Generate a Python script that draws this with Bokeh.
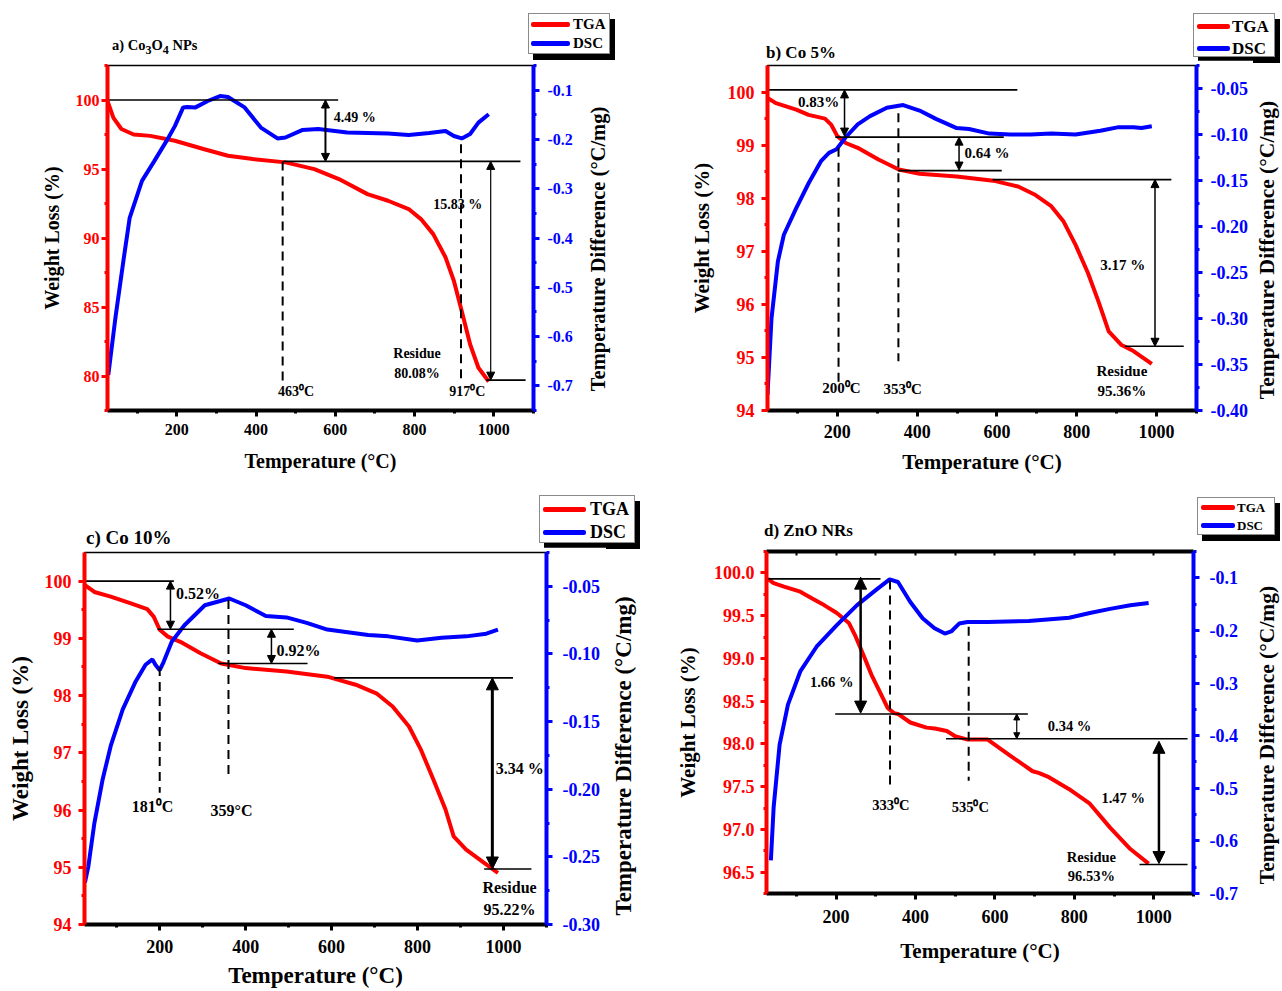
from bokeh.plotting import figure
from bokeh.models import (Range1d, LinearAxis, FixedTicker, PrintfTickFormatter,
                          Arrow, NormalHead, ColumnDataSource, Div)
from bokeh.layouts import row, column
from bokeh.embed import file_html
from bokeh.resources import INLINE
from bokeh.core.properties import value

FONT = "Liberation Serif"
RED = "#ff0000"
BLUE = "#0000ff"
SERIES = ["TGA", "DSC"]
SERIES_COLORS = [RED, BLUE]
X_LABEL = "Temperature (°C)"
YL_LABEL = "Weight Loss (%)"
YR_LABEL = "Temperature Difference (°C/mg)"

# ---------------- shared ticks ----------------
X_TICKS = [200, 400, 600, 800, 1000]
X_MINOR = [100, 300, 500, 700, 900, 1100]
X_TOP_TICKS = [100, 200, 300, 400, 500, 600, 700, 800, 900, 1000]

# ---------------- panel a) Co3O4 NPs ----------------
A_TGA_T = [24, 40, 60, 91, 133, 195, 267, 329, 392, 474, 547, 609, 681, 733, 785, 816, 847, 878, 899, 919, 940, 961, 987]
A_TGA_W = [100.0, 98.7, 97.9, 97.5, 97.4, 97.05, 96.45, 95.96, 95.72, 95.48, 94.99, 94.27, 93.18, 92.7, 92.1, 91.37, 90.28, 88.6, 86.9, 84.7, 82.3, 80.6, 79.6]
A_DSC_T = [27, 45, 65, 81, 112, 143, 174, 195, 216, 226, 247, 278, 309, 329, 371, 412, 454, 474, 516, 557, 630, 733, 785, 837, 878, 899, 919, 940, 961, 987]
A_DSC_V = [-0.678, -0.562, -0.447, -0.359, -0.284, -0.244, -0.203, -0.173, -0.135, -0.134, -0.135, -0.122, -0.112, -0.114, -0.135, -0.176, -0.198, -0.196, -0.181, -0.179, -0.186, -0.188, -0.191, -0.187, -0.183, -0.193, -0.198, -0.189, -0.166, -0.149]
A_YL = (77.5, 102.5)
A_YR = (-0.75, -0.05)
A_L_TICKS = [80, 85, 90, 95, 100]
A_L_MINOR = [77.5, 82.5, 87.5, 92.5, 97.5, 102.5]
A_R_TICKS = [-0.7, -0.6, -0.5, -0.4, -0.3, -0.2, -0.1]
A_R_MINOR = [-0.75, -0.65, -0.55, -0.45, -0.35, -0.25, -0.15, -0.05]
A_HLINES = [(25, 607, 100.0), (469, 1067, 95.55), (981, 1080, 79.7)]
A_ARROWS = [(575, 100.0, 95.55), (992, 95.55, 79.7)]
A_DASHES = [(467, 95.55, 79.6), (917, 96.8, 79.4)]
A_NOTES = [("4.49 %", 649, 98.75), ("15.83 %", 909, 92.4), ("Residue", 806, 81.6),
           ("80.08%", 806, 80.15), ("463⁰C", 501, 78.9), ("917⁰C", 933, 78.9)]
A_TITLE = "a) Co<sub>3</sub>O<sub>4</sub> NPs"

# ---------------- panel b) Co 5% ----------------
B_TGA_T = [25, 46, 97, 128, 169, 185, 200, 221, 251, 303, 354, 406, 499, 591, 653, 694, 736, 767, 797, 828, 854, 880, 911, 942, 988]
B_TGA_W = [99.89, 99.79, 99.67, 99.57, 99.50, 99.38, 99.17, 99.04, 98.95, 98.73, 98.54, 98.46, 98.41, 98.33, 98.22, 98.07, 97.85, 97.56, 97.12, 96.59, 96.06, 95.49, 95.24, 95.12, 94.88]
B_DSC_T = [25, 35, 51, 66, 97, 128, 159, 179, 198, 221, 251, 282, 324, 365, 406, 447, 499, 530, 581, 633, 684, 736, 797, 859, 905, 942, 962, 988]
B_DSC_V = [-0.383, -0.300, -0.238, -0.209, -0.180, -0.153, -0.129, -0.120, -0.116, -0.103, -0.089, -0.080, -0.071, -0.068, -0.074, -0.083, -0.093, -0.094, -0.099, -0.100, -0.100, -0.099, -0.100, -0.096, -0.092, -0.092, -0.093, -0.091]
B_YL = (94, 100.5)
B_YR = (-0.40, -0.025)
B_L_TICKS = [94, 95, 96, 97, 98, 99, 100]
B_L_MINOR = [94.5, 95.5, 96.5, 97.5, 98.5, 99.5]
B_R_TICKS = [-0.40, -0.35, -0.30, -0.25, -0.20, -0.15, -0.10, -0.05]
B_R_MINOR = [-0.375, -0.325, -0.275, -0.225, -0.175, -0.125, -0.075, -0.025]
B_HLINES = [(25, 651, 100.04), (195, 617, 99.15), (352, 612, 98.52), (589, 1037, 98.35), (921, 1068, 95.21)]
B_ARROWS = [(218, 100.04, 99.17), (505, 99.15, 98.53), (996, 98.35, 95.21)]
B_DASHES = [(203, 98.95, 94.49), (353, 99.6, 94.93)]
B_NOTES = [("0.83%", 153, 99.82), ("0.64 %", 575, 98.85), ("3.17 %", 915, 96.75),
           ("Residue", 913, 94.74), ("95.36%", 913, 94.36), ("200⁰C", 210, 94.43), ("353⁰C", 364, 94.4)]
B_TITLE = "b) Co 5%"

# ---------------- panel c) Co 10% ----------------
C_TGA_T = [26, 48, 86, 133, 171, 186, 200, 219, 248, 295, 343, 400, 495, 590, 656, 704, 742, 780, 808, 837, 865, 884, 913, 951, 987]
C_TGA_W = [99.93, 99.81, 99.73, 99.61, 99.51, 99.38, 99.15, 99.03, 98.94, 98.74, 98.56, 98.48, 98.42, 98.33, 98.19, 98.04, 97.81, 97.46, 97.05, 96.53, 96.01, 95.54, 95.31, 95.10, 94.90]
C_DSC_T = [26, 34, 48, 67, 86, 114, 143, 167, 183, 190, 200, 209, 228, 257, 305, 362, 400, 447, 495, 542, 590, 685, 732, 799, 856, 913, 960, 987]
C_DSC_V = [-0.269, -0.257, -0.225, -0.193, -0.168, -0.141, -0.121, -0.108, -0.104, -0.108, -0.112, -0.106, -0.091, -0.079, -0.064, -0.059, -0.064, -0.072, -0.073, -0.077, -0.082, -0.086, -0.087, -0.090, -0.088, -0.087, -0.085, -0.082]
C_YL = (94, 100.5)
C_YR = (-0.30, -0.025)
C_L_TICKS = [94, 95, 96, 97, 98, 99, 100]
C_L_MINOR = [94.5, 95.5, 96.5, 97.5, 98.5, 99.5]
C_R_TICKS = [-0.30, -0.25, -0.20, -0.15, -0.10, -0.05]
C_R_MINOR = [-0.275, -0.225, -0.175, -0.125, -0.075, -0.025]
C_HLINES = [(26, 233, 100.0), (195, 512, 99.16), (336, 544, 98.56), (606, 1022, 98.31), (955, 1065, 94.97)]
C_ARROWS = [(225, 100.0, 99.16), (460, 99.16, 98.56), (974, 98.31, 94.97)]
C_DASHES = [(200, 98.5, 96.3), (360, 99.67, 96.6)]
C_NOTES = [("0.52%", 289, 99.78), ("0.92%", 523, 98.78), ("3.34 %", 1038, 96.73),
           ("Residue", 1014, 94.65), ("95.22%", 1014, 94.27), ("181⁰C", 183, 96.06), ("359°C", 367, 96.0)]
C_TITLE = "c) Co 10%"

# ---------------- panel d) ZnO NRs ----------------
D_TGA_T = [28, 43, 69, 110, 140, 171, 202, 233, 248, 269, 289, 310, 330, 346, 356, 387, 428, 449, 479, 500, 531, 582, 633, 695, 710, 736, 787, 839, 890, 941, 987]
D_TGA_W = [99.93, 99.88, 99.84, 99.78, 99.70, 99.62, 99.53, 99.41, 99.27, 99.04, 98.81, 98.61, 98.42, 98.36, 98.35, 98.25, 98.19, 98.18, 98.15, 98.09, 98.05, 98.05, 97.88, 97.68, 97.66, 97.61, 97.47, 97.30, 97.02, 96.77, 96.60]
D_DSC_T = [36, 43, 58, 79, 110, 151, 202, 253, 304, 335, 356, 387, 418, 448, 474, 490, 510, 531, 582, 685, 787, 839, 890, 941, 987]
D_DSC_V = [-0.637, -0.536, -0.417, -0.341, -0.278, -0.231, -0.190, -0.152, -0.121, -0.103, -0.108, -0.146, -0.177, -0.196, -0.206, -0.202, -0.187, -0.184, -0.184, -0.182, -0.176, -0.167, -0.159, -0.152, -0.148]
D_YL = (96.25, 100.25)
D_YR = (-0.70, -0.05)
D_L_TICKS = [96.5, 97.0, 97.5, 98.0, 98.5, 99.0, 99.5, 100.0]
D_L_MINOR = [96.25, 96.75, 97.25, 97.75, 98.25, 98.75, 99.25, 99.75, 100.25]
D_R_TICKS = [-0.7, -0.6, -0.5, -0.4, -0.3, -0.2, -0.1]
D_R_MINOR = [-0.65, -0.55, -0.45, -0.35, -0.25, -0.15, -0.05]
D_HLINES = [(25, 312, 99.93), (198, 683, 98.35), (477, 1085, 98.06), (964, 1085, 96.59)]
D_ARROWS = [(262, 99.95, 98.36), (655, 98.35, 98.06), (1013, 98.03, 96.60)]
D_DASHES = [(336, 99.91, 97.49), (534, 99.37, 97.57)]
D_NOTES = [("1.66 %", 189, 98.72), ("0.34 %", 788, 98.21), ("1.47 %", 923, 97.37),
           ("Residue", 843, 96.68), ("96.53%", 843, 96.45), ("333⁰C", 338, 97.28), ("535⁰C", 538, 97.26)]
D_TITLE = "d) ZnO NRs"


def style_axis(ax, color, label, label_size, tick_size, label_standoff, tick_standoff):
    ax.axis_label = label
    ax.axis_label_text_font = FONT
    ax.axis_label_text_font_style = "bold"
    ax.axis_label_text_font_size = label_size
    ax.axis_label_text_color = "black"
    ax.axis_label_standoff = label_standoff
    ax.axis_line_color = color
    ax.axis_line_width = 4
    ax.major_tick_line_color = color
    ax.major_tick_line_width = 3
    ax.major_tick_out = 6
    ax.major_tick_in = 0
    ax.minor_tick_line_color = color
    ax.minor_tick_line_width = 3
    ax.minor_tick_out = 3
    ax.minor_tick_in = 0
    ax.major_label_text_font = FONT
    ax.major_label_text_font_style = "bold"
    ax.major_label_text_font_size = tick_size
    ax.major_label_text_color = color
    ax.major_label_standoff = tick_standoff


BASE = "position:absolute;white-space:nowrap;line-height:1;font-family:'%s';font-weight:bold;color:black;" % FONT


def header_div(cfg):
    """Strip above a panel: its title and its TGA/DSC key (with drop shadow)."""
    W, H = cfg["width"], cfg["height"]
    tx, ty, tsize = cfg["title"]
    bx, by, bw, bh = cfg["box"]
    lx, lw, txl, ksize = cfg["key"]
    parts = ['<div style="position:relative;width:%dpx;height:%dpx;">' % (W, H)]
    parts.append('<div style="%sleft:%spx;top:%spx;transform:translateY(-50%%);font-size:%s;">%s</div>'
                 % (BASE, tx, ty, tsize, cfg["text"]))
    parts.append('<div style="position:absolute;left:%spx;top:%spx;width:%spx;height:%spx;box-sizing:border-box;'
                 'border:1px solid #8a8a8a;background:#ffffff;box-shadow:5px 6px 0 0 #000000;"></div>'
                 % (bx, by, bw, bh))
    for name, colr, yc in zip(SERIES, SERIES_COLORS, cfg["rows"]):
        parts.append('<div style="position:absolute;left:%spx;top:%spx;width:%spx;height:5px;'
                     'border-radius:2px;background:%s;"></div>' % (lx, yc - 2.5, lw, colr))
        parts.append('<div style="%sleft:%spx;top:%spx;transform:translateY(-50%%);font-size:%s;">%s</div>'
                     % (BASE, txl, yc, ksize, name))
    parts.append('</div>')
    return Div(text="".join(parts), width=W, height=H, margin=0)


def ylabel_div(cfg):
    """Right-hand axis title, reading bottom to top like the reference."""
    W, H = cfg["width"], cfg["height"]
    cx, cy, size = cfg["pos"]
    html = ('<div style="position:relative;width:%dpx;height:%dpx;">'
            '<div style="%sleft:%spx;top:%spx;transform:translate(-50%%,-50%%) rotate(-90deg);font-size:%s;">%s</div>'
            '</div>') % (W, H, BASE, cx, cy, size, YR_LABEL)
    return Div(text=html, width=W, height=H, margin=0)


def build(cfg):
    p = figure(width=cfg["width"], height=cfg["height"],
               x_range=Range1d(25, 1100), y_range=Range1d(cfg["yl"][0], cfg["yl"][1]),
               output_backend="svg", toolbar_location=None,
               min_border_left=cfg["bl"], min_border_right=cfg["br"],
               min_border_top=cfg["bt"], min_border_bottom=cfg["bb"])
    p.extra_y_ranges = {"dsc": Range1d(cfg["yr"][0], cfg["yr"][1])}
    p.xgrid.visible = False
    p.ygrid.visible = False
    p.outline_line_color = "black"
    p.outline_line_width = 1.5

    xa = p.xaxis[0]
    xa.ticker = FixedTicker(ticks=X_TICKS, minor_ticks=X_MINOR)
    style_axis(xa, "black", X_LABEL, cfg["lab"], cfg["tick"], cfg["x_ls"], cfg["x_ts"])

    if cfg.get("top_axis"):
        ta = LinearAxis(ticker=FixedTicker(ticks=X_TOP_TICKS, minor_ticks=[]))
        ta.axis_line_color = "black"
        ta.axis_line_width = 4
        ta.major_tick_line_color = "black"
        ta.major_tick_line_width = 2
        ta.major_tick_in = 4
        ta.major_tick_out = 0
        ta.minor_tick_line_color = None
        ta.major_label_text_font_size = "1px"
        ta.major_label_text_alpha = 0
        ta.major_label_standoff = 0
        p.add_layout(ta, "above")

    ya = p.yaxis[0]
    ya.ticker = FixedTicker(ticks=cfg["lt"], minor_ticks=cfg["lm"])
    ya.formatter = PrintfTickFormatter(format=cfg["lfmt"])
    style_axis(ya, RED, YL_LABEL, cfg["lab"], cfg["tick"], cfg["l_ls"], cfg["l_ts"])

    yr = LinearAxis(y_range_name="dsc")
    yr.ticker = FixedTicker(ticks=cfg["rt"], minor_ticks=cfg["rm"])
    yr.formatter = PrintfTickFormatter(format=cfg["rfmt"])
    style_axis(yr, BLUE, None, cfg["lab"], cfg["tick"], 0, cfg["r_ts"])
    p.add_layout(yr, "right")

    p.line(cfg["tga_t"], cfg["tga_w"], line_color=RED, line_width=4)
    p.line(cfg["dsc_t"], cfg["dsc_v"], line_color=BLUE, line_width=4, y_range_name="dsc")

    hl = cfg["hlines"]
    p.segment(x0=[h[0] for h in hl], x1=[h[1] for h in hl], y0=[h[2] for h in hl], y1=[h[2] for h in hl],
              line_color="black", line_width=1.6)
    ds = cfg["dashes"]
    p.segment(x0=[d[0] for d in ds], x1=[d[0] for d in ds], y0=[d[1] for d in ds], y1=[d[2] for d in ds],
              line_color="black", line_width=2, line_dash="9 6")
    for (ax_, y0, y1), (lw, hs) in zip(cfg["arrows"], cfg["arrow_style"]):
        p.add_layout(Arrow(start=NormalHead(size=hs, fill_color="black", line_color="black", line_width=1),
                           end=NormalHead(size=hs, fill_color="black", line_color="black", line_width=1),
                           x_start=ax_, y_start=y0, x_end=ax_, y_end=y1,
                           line_color="black", line_width=lw))

    notes = cfg["notes"]
    src = ColumnDataSource(dict(x=[n[1] for n in notes], y=[n[2] for n in notes], t=[n[0] for n in notes]))
    p.text(x="x", y="y", text="t", source=src, text_font=value(FONT), text_font_style="bold",
           text_font_size=cfg["note"], text_align="center", text_baseline="middle", text_color="black")
    return p


# ---------- panel a ----------
ha = header_div(dict(width=640, height=60, text=A_TITLE, title=(112, 47, "14.5px"),
                     box=(528, 13, 82, 41), rows=[24, 43], key=(531, 39, 573, "15px")))
pa = build(dict(width=584, height=427, bl=107, br=51, bt=5, bb=77,
                yl=A_YL, yr=A_YR, lt=A_L_TICKS, lm=A_L_MINOR, rt=A_R_TICKS, rm=A_R_MINOR,
                lfmt="%d", rfmt="%.1f", lab="20px", tick="16px",
                x_ls=12, x_ts=7, l_ls=10, l_ts=2, r_ts=8,
                tga_t=A_TGA_T, tga_w=A_TGA_W, dsc_t=A_DSC_T, dsc_v=A_DSC_V,
                hlines=A_HLINES, dashes=A_DASHES, arrows=A_ARROWS, arrow_style=[(2, 8), (1.2, 8)],
                notes=A_NOTES, note="14px"))
la = ylabel_div(dict(width=56, height=427, pos=(14, 189, "20.5px")))

# ---------- panel b ----------
hb = header_div(dict(width=640, height=60, text=B_TITLE, title=(126, 52, "17px"),
                     box=(553, 13, 82, 44), rows=[26, 48], key=(557, 33, 592, "17px")))
pb = build(dict(width=613, height=427, bl=127, br=57, bt=5, bb=77,
                yl=B_YL, yr=B_YR, lt=B_L_TICKS, lm=B_L_MINOR, rt=B_R_TICKS, rm=B_R_MINOR,
                lfmt="%d", rfmt="%.2f", lab="21px", tick="18px",
                x_ls=9, x_ts=8, l_ls=11, l_ts=7, r_ts=8,
                tga_t=B_TGA_T, tga_w=B_TGA_W, dsc_t=B_DSC_T, dsc_v=B_DSC_V,
                hlines=B_HLINES, dashes=B_DASHES, arrows=B_ARROWS, arrow_style=[(1.5, 8), (1.5, 8), (1.5, 8)],
                notes=B_NOTES, note="15px"))
lb = ylabel_div(dict(width=27, height=427, pos=(15, 190, "21.5px")))

# ---------- panel c ----------
hc = header_div(dict(width=640, height=60, text=C_TITLE, title=(86, 50, "19px"),
                     box=(539, 8, 96, 48), rows=[22, 45], key=(543, 43, 590, "18px")))
pc = build(dict(width=606, height=443, bl=84, br=60, bt=5, bb=66,
                yl=C_YL, yr=C_YR, lt=C_L_TICKS, lm=C_L_MINOR, rt=C_R_TICKS, rm=C_R_MINOR,
                lfmt="%d", rfmt="%.2f", lab="23px", tick="18px",
                x_ls=7, x_ts=9, l_ls=9, l_ts=7, r_ts=10,
                tga_t=C_TGA_T, tga_w=C_TGA_W, dsc_t=C_DSC_T, dsc_v=C_DSC_V,
                hlines=C_HLINES, dashes=C_DASHES, arrows=C_ARROWS, arrow_style=[(1.5, 8), (1.5, 8), (3, 12)],
                notes=C_NOTES, note="16px"))
lc = ylabel_div(dict(width=34, height=443, pos=(17, 209, "23px")))

# ---------- panel d ----------
hd = header_div(dict(width=640, height=59, text=D_TITLE, title=(124, 43, "17px"),
                     box=(557, 10, 78, 38), rows=[20, 38], key=(561, 34, 597, "13px")))
pd_ = build(dict(width=606, height=444, bl=126, br=53, bt=5, bb=97,
                 yl=D_YL, yr=D_YR, lt=D_L_TICKS, lm=D_L_MINOR, rt=D_R_TICKS, rm=D_R_MINOR,
                 lfmt="%.1f", rfmt="%.1f", lab="21px", tick="18px",
                 x_ls=13, x_ts=10, l_ls=11, l_ts=6, r_ts=10, top_axis=True,
                 tga_t=D_TGA_T, tga_w=D_TGA_W, dsc_t=D_DSC_T, dsc_v=D_DSC_V,
                 hlines=D_HLINES, dashes=D_DASHES, arrows=D_ARROWS, arrow_style=[(2.5, 12), (1.2, 6), (2.5, 12)],
                 notes=D_NOTES, note="14.5px"))
ld = ylabel_div(dict(width=34, height=444, pos=(22, 189, "21.5px")))

layout = column(
    row(column(ha, row(pa, la)), column(hb, row(pb, lb))),
    row(column(hc, row(pc, lc)), column(hd, row(pd_, ld))),
)
open("out.html", "w").write(file_html(layout, INLINE))
